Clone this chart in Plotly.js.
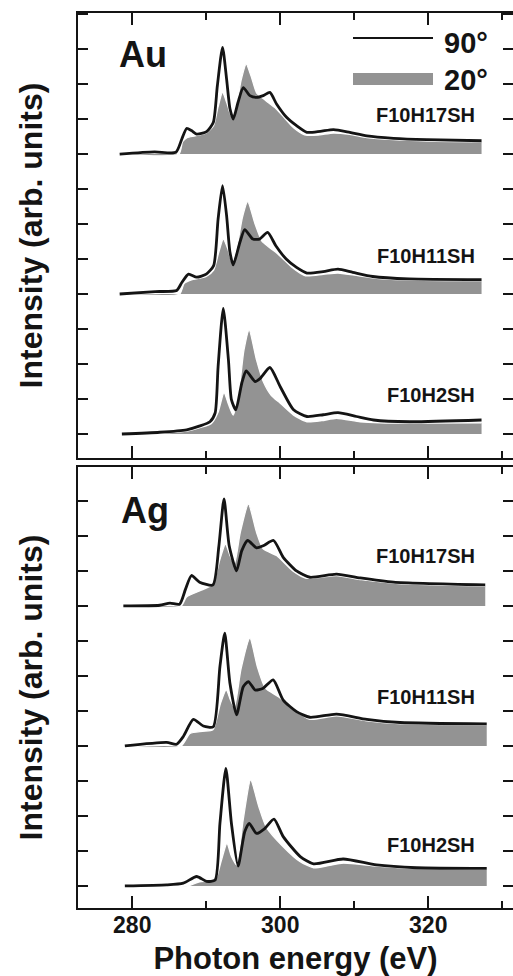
<!DOCTYPE html>
<html>
<head>
<meta charset="utf-8">
<script src="https://cdn.plot.ly/plotly-3.0.1.min.js"></script>
<style>html,body{margin:0;padding:0;background:#fff;}#plot{width:513px;height:976px;}</style>
</head>
<body>
<div id="plot"></div>
<script>
// ---------- DATA (photon energy in eV, intensity above each spectrum's own baseline, arb. units) ----------
// Au substrate
const auH17_90_E = [278.3, 283.0, 285.9, 286.7, 287.35, 288.0, 288.7, 290.05, 290.95, 291.5, 292.2, 292.75, 293.2, 293.65, 294.3, 295.0, 295.9, 296.8, 297.7, 298.6, 299.5, 300.85, 302.2, 303.6, 305.4, 307.2, 309.4, 311.7, 315.3, 319.8, 327.2];
const auH17_90_I = [0, 0.06, 0.05, 0.43, 0.73, 0.67, 0.57, 0.64, 0.9, 1.95, 3.05, 2.14, 1.3, 1.0, 1.48, 1.9, 1.67, 1.62, 1.67, 1.76, 1.43, 1.05, 0.81, 0.62, 0.65, 0.70, 0.62, 0.52, 0.45, 0.41, 0.38];
const auH17_20_E = [278.3, 286.3, 286.8, 287.4, 288.5, 290.0, 291.0, 291.6, 292.2, 292.8, 293.4, 294.0, 294.7, 295.4, 296.1, 296.8, 297.6, 298.5, 299.4, 300.5, 301.8, 303.3, 305.0, 307.2, 309.4, 311.7, 315.3, 320.0, 327.2];
const auH17_20_I = [0, 0, 0.35, 0.47, 0.52, 0.6, 0.82, 1.35, 1.76, 1.45, 1.08, 1.3, 2.1, 2.57, 2.2, 1.75, 1.6, 1.45, 1.3, 1.05, 0.75, 0.55, 0.54, 0.6, 0.56, 0.47, 0.41, 0.37, 0.35];

const auH11_90_E = [278.3, 283.1, 286.0, 286.7, 287.6, 288.7, 290.0, 291.0, 291.6, 292.2, 292.75, 293.2, 293.65, 294.55, 295.2, 296.3, 297.2, 298.3, 299.4, 300.8, 302.2, 303.6, 305.8, 307.8, 309.8, 312.5, 317.4, 327.2];
const auH11_90_I = [0, 0.07, 0.1, 0.33, 0.57, 0.48, 0.57, 0.81, 2.14, 3.1, 2.24, 1.2, 0.83, 1.48, 1.84, 1.57, 1.57, 1.76, 1.38, 1.0, 0.76, 0.6, 0.64, 0.71, 0.62, 0.5, 0.43, 0.41];
const auH11_20_E = [278.3, 286.4, 287.0, 288.0, 290.0, 291.0, 291.7, 292.3, 292.9, 293.5, 294.2, 294.9, 295.6, 296.6, 297.5, 298.4, 299.4, 300.5, 301.6, 303.4, 305.8, 307.8, 310.0, 313.0, 318.0, 327.2];
const auH11_20_I = [0, 0, 0.3, 0.4, 0.5, 0.68, 1.2, 1.57, 1.3, 0.9, 1.4, 2.2, 2.64, 2.0, 1.52, 1.35, 1.19, 0.98, 0.76, 0.52, 0.56, 0.6, 0.54, 0.45, 0.4, 0.38];

const auH2_90_E = [278.6, 283.7, 287.35, 289.15, 290.5, 291.2, 291.6, 292.3, 293.0, 293.4, 294.0, 294.8, 295.4, 296.6, 297.3, 298.6, 300.0, 301.8, 303.6, 305.8, 307.8, 310.3, 312.6, 317.5, 327.2];
const auH2_90_I = [0, 0.05, 0.12, 0.23, 0.35, 0.6, 1.92, 3.59, 2.11, 0.98, 0.69, 1.45, 1.8, 1.5, 1.59, 1.9, 1.35, 0.69, 0.5, 0.55, 0.61, 0.5, 0.4, 0.35, 0.4];
const auH2_20_E = [278.6, 283.5, 287.35, 289.15, 290.7, 291.6, 292.4, 293.0, 293.65, 294.4, 295.1, 295.8, 296.8, 297.7, 298.8, 300.0, 301.8, 303.6, 305.6, 307.6, 310.8, 313.5, 318.0, 327.2];
const auH2_20_I = [0, 0.02, 0.08, 0.18, 0.3, 0.62, 1.18, 0.85, 0.54, 1.2, 2.4, 2.97, 2.11, 1.5, 1.1, 0.88, 0.54, 0.35, 0.38, 0.45, 0.35, 0.32, 0.31, 0.32];

// Ag substrate
const agH17_90_E = [278.8, 283.7, 285.1, 286.4, 287.2, 288.0, 289.1, 290.9, 291.7, 292.4, 293.1, 294.1, 294.8, 295.6, 296.8, 297.7, 299.1, 300.4, 302.2, 304.0, 307.6, 310.8, 315.3, 327.7];
const agH17_90_I = [0, 0.02, 0.08, 0.05, 0.48, 0.87, 0.68, 0.6, 1.7, 3.06, 1.72, 1.0, 1.58, 1.87, 1.66, 1.72, 1.87, 1.39, 1.0, 0.82, 0.91, 0.8, 0.68, 0.6];
const agH17_20_E = [278.8, 286.6, 287.3, 289.1, 290.9, 291.8, 292.6, 293.2, 293.8, 294.6, 295.7, 296.8, 297.7, 299.5, 301.7, 303.5, 305.5, 307.6, 311.0, 316.0, 327.7];
const agH17_20_I = [0, 0, 0.25, 0.43, 0.62, 1.3, 1.77, 1.45, 1.2, 2.1, 2.91, 2.1, 1.63, 1.44, 1.0, 0.79, 0.82, 0.87, 0.75, 0.64, 0.57];

const agH11_90_E = [279.0, 284.65, 286.0, 286.9, 288.25, 289.6, 290.95, 291.85, 292.5, 293.2, 294.1, 295.0, 295.7, 296.6, 297.7, 299.05, 300.4, 302.2, 304.0, 307.6, 311.7, 316.2, 327.9];
const agH11_90_I = [0, 0.1, 0.05, 0.27, 0.76, 0.57, 0.55, 2.27, 3.22, 1.79, 0.89, 1.69, 1.84, 1.6, 1.65, 1.89, 1.31, 0.98, 0.82, 0.91, 0.76, 0.67, 0.63];
const agH11_20_E = [279.0, 286.6, 287.8, 289.5, 290.9, 291.9, 292.7, 293.3, 293.8, 294.7, 295.9, 296.9, 298.0, 299.8, 301.9, 304.0, 307.6, 311.7, 316.0, 327.9];
const agH11_20_I = [0, 0, 0.36, 0.42, 0.46, 1.2, 1.6, 1.3, 1.1, 2.2, 3.08, 2.27, 1.65, 1.4, 1.03, 0.76, 0.86, 0.72, 0.64, 0.6];

const agH2_90_E = [279.0, 284.65, 286.9, 288.7, 290.05, 291.2, 291.85, 292.65, 293.4, 294.3, 295.2, 295.8, 296.8, 297.9, 299.15, 300.4, 302.7, 304.5, 308.5, 313.0, 318.4, 327.9];
const agH2_90_I = [0, 0.03, 0.08, 0.27, 0.13, 0.17, 1.79, 3.36, 1.79, 0.57, 1.55, 1.79, 1.5, 1.64, 1.91, 1.41, 0.84, 0.63, 0.77, 0.6, 0.52, 0.5];
const agH2_20_E = [279.0, 287.5, 289.1, 291.2, 292.0, 292.8, 293.4, 294.1, 295.0, 296.0, 297.1, 298.1, 300.4, 302.7, 304.5, 306.5, 308.5, 313.0, 318.0, 327.9];
const agH2_20_I = [0, 0, 0.12, 0.17, 0.7, 1.22, 0.85, 0.6, 1.9, 3.03, 2.27, 1.69, 1.12, 0.69, 0.52, 0.58, 0.65, 0.57, 0.5, 0.48];

const sampleNames = ["F10H17SH", "F10H11SH", "F10H2SH"];
const panelNames = ["Au", "Ag"];
const legendNames = ["90°", "20°"];
const xTickVals = [280, 300, 320];
const stackOffsets = [8, 4, 0];

// ---------- STYLE / LAYOUT ----------
const FONT = "'Liberation Sans', Arial, Helvetica, sans-serif";
const INK = "#141414";
const GRAY = "#939393";
const L = 78, T = 13, Bm = 908, PW = 435, PH = 895;
const px = x => (x - L) / PW;
const py = y => (Bm - y) / PH;

const panels = [
  {axis: "y2", xaxis: "x2", sets: [[auH17_90_E, auH17_90_I, auH17_20_E, auH17_20_I], [auH11_90_E, auH11_90_I, auH11_20_E, auH11_20_I], [auH2_90_E, auH2_90_I, auH2_20_E, auH2_20_I]]},
  {axis: "y", xaxis: "x", sets: [[agH17_90_E, agH17_90_I, agH17_20_E, agH17_20_I], [agH11_90_E, agH11_90_I, agH11_20_E, agH11_20_I], [agH2_90_E, agH2_90_I, agH2_20_E, agH2_20_I]]}
];

const traces = [];
panels.forEach(p => {
  p.sets.forEach((s, k) => {
    const off = stackOffsets[k];
    const [e90, i90, e20, i20] = s;
    traces.push({x: [e20[0], e20[e20.length - 1]], y: [off, off], xaxis: p.xaxis, yaxis: p.axis,
      mode: "lines", line: {width: 0, color: "rgba(0,0,0,0)"}, hoverinfo: "skip", showlegend: false});
    traces.push({x: e20, y: i20.map(v => v + off), xaxis: p.xaxis, yaxis: p.axis, name: legendNames[1],
      mode: "lines", fill: "tonexty", fillcolor: GRAY, line: {color: "#ffffff", width: 1.3, shape: "spline", smoothing: 0.6},
      showlegend: false});
    traces.push({x: e90, y: i90.map(v => v + off), xaxis: p.xaxis, yaxis: p.axis, name: legendNames[0],
      mode: "lines", line: {color: INK, width: 2.8, shape: "spline", smoothing: 0.6}, showlegend: false});
  });
});

const xCommon = {
  range: [272.67, 331.45], tickvals: xTickVals, ticks: "inside", ticklen: 12, tickwidth: 2, tickcolor: INK,
  showline: true, linewidth: 2, linecolor: INK, mirror: "ticks", showgrid: false, zeroline: false,
  minor: {dtick: 10, tick0: 280, ticks: "inside", ticklen: 7, tickwidth: 2, tickcolor: INK, showgrid: false},
  tickfont: {family: FONT, size: 23, color: INK, weight: "bold"}
};
const yCommon = {
  dtick: 1, tick0: 0, ticks: "inside", ticklen: 10, tickwidth: 1.6, tickcolor: INK,
  showline: true, linewidth: 2, linecolor: INK, mirror: "ticks", showgrid: false, zeroline: false,
  showticklabels: false,
  title: {text: "<b>Intensity (arb. units)</b>", font: {family: FONT, size: 32, color: INK}, standoff: 24}
};

const annotations = [];
const addText = (text, x, y, size, xanchor) => annotations.push({
  text: "<b>" + text + "</b>", xref: "paper", yref: "paper", x: px(x), y: py(y), xanchor: xanchor || "center",
  yanchor: "middle", showarrow: false, font: {family: FONT, size: size, color: INK}
});
addText(panelNames[0], 143, 55, 36);
addText(panelNames[1], 145, 510, 36);
addText(legendNames[0], 442, 43, 29, "left");
addText(legendNames[1], 442, 80, 29, "left");
const labelY = [[115, 256, 395], [556, 697, 845]];
panels.forEach((p, i) => sampleNames.forEach((n, k) => addText(n, 477, labelY[i][k], 20, "right")));

const shapes = [
  {type: "line", xref: "paper", yref: "paper", x0: px(353), x1: px(433), y0: py(38), y1: py(38), line: {color: INK, width: 2}},
  {type: "rect", xref: "paper", yref: "paper", x0: px(353), x1: px(433), y0: py(85), y1: py(73), fillcolor: GRAY, line: {width: 0}}
];

const layout = {
  width: 513, height: 976, margin: {l: L, r: 0, t: T, b: 976 - Bm},
  paper_bgcolor: "#ffffff", plot_bgcolor: "#ffffff", showlegend: false,
  xaxis: Object.assign({}, xCommon, {anchor: "y", domain: [0, 1],
    title: {text: "<b>Photon energy (eV)</b>", font: {family: FONT, size: 31, color: INK}, standoff: 12}, ticklabelstandoff: -5}),
  xaxis2: Object.assign({}, xCommon, {anchor: "y2", domain: [0, 1], matches: "x", showticklabels: false}),
  yaxis: Object.assign({}, yCommon, {anchor: "x", domain: [0, (Bm - 467) / PH], range: [-0.63, 11.97]}),
  yaxis2: Object.assign({}, yCommon, {anchor: "x2", domain: [(Bm - 458) / PH, 1], range: [-0.686, 12.03]}),
  annotations: annotations, shapes: shapes, font: {family: FONT, color: INK}
};

Plotly.newPlot("plot", traces, layout, {staticPlot: true, displayModeBar: false});
</script>
</body>
</html>
